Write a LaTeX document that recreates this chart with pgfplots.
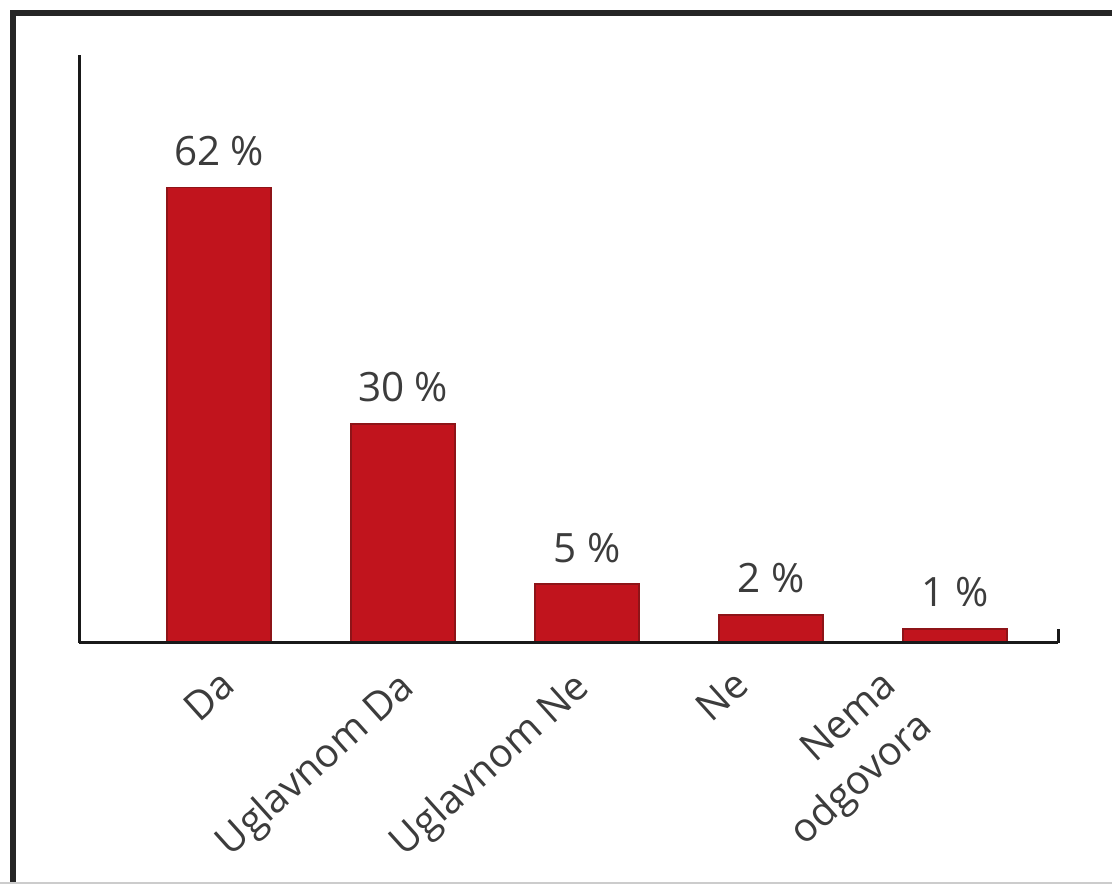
\documentclass[border=0pt]{standalone}
\usepackage{pgfplots}
\pgfplotsset{compat=1.18}
\usepackage{fontspec}
\setmainfont{Open Sans}
\definecolor{barred}{HTML}{C1141D}
\definecolor{baredge}{HTML}{8E1418}
\definecolor{txt}{HTML}{3C3C3C}
\begin{document}
\begin{tikzpicture}
% 1 px of the reference = 0.1 mm; axis box corner at the origin
\path[use as bounding box] (-7.9mm,-24.1mm) rectangle (103.3mm,64.3mm);
\draw[line width=0.6mm, black!85] (-6.6mm,-24.1mm) -- (-6.6mm,63.0mm) -- (103.3mm,63.0mm);
\draw[black!20, line width=0.25mm] (-7.9mm,-24.0mm) -- (103.3mm,-24.0mm);
\begin{axis}[
    scale only axis,
    width=97.9mm, height=58.8mm,
    xmin=-0.761, xmax=4.56,
    ymin=0, ymax=80,
    clip=false,
    axis lines=left,
    axis line style={-, line width=0.3mm, black!90},
    axis on top,
    ytick=\empty,
    xtick={0.1,1.065,2.016,2.89,3.69},
    xticklabels={Da, Uglavnom Da, Uglavnom Ne, Ne, {Nema\\odgovora}},
    major tick length=0pt,
    xticklabel style={rotate=42, anchor=north east, align=right,
        font=\fontsize{11.3}{15.5}\selectfont, text=txt, inner sep=0pt,
        xshift=-3.0mm, yshift=-0.5mm},
    ybar, bar width=10.4mm,
    nodes near coords,
    point meta=explicit symbolic,
    every node near coord/.append style={font=\fontsize{11.5}{13}\selectfont,
        text=txt, anchor=south, inner sep=0pt, yshift=2.1mm},
  ]
  \addplot[fill=barred, draw=baredge, line width=0.4pt]
    coordinates {(0,62) [62 \%] (1,29.8) [30 \%] (2,8.0) [5 \%] (3,3.8) [2 \%] (4,1.9) [1 \%]};
  \draw[line width=0.3mm, black!90] (axis cs:4.56,0) -- (axis cs:4.56,1.9);
\end{axis}
\end{tikzpicture}
\end{document}
